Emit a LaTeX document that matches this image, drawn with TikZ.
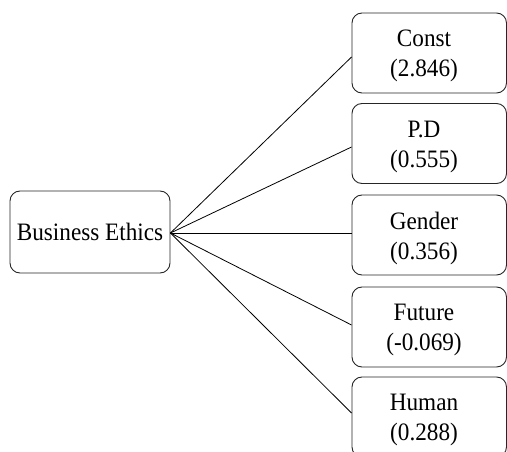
\documentclass[tikz,border=0pt]{standalone}
\usepackage{fontspec}
\setmainfont{Liberation Serif}
\newcommand\tallt[1]{\scalebox{1}[1.08]{#1}}
\begin{document}
\begin{tikzpicture}[x=1pt,y=-1pt,
  box/.style={draw=black!85, rounded corners=10pt, line width=0.9pt, inner sep=0pt},
  lab/.style={align=center, font=\fontsize{23.2}{30}\selectfont, text=black, inner sep=0pt},
  link/.style={draw=black, line width=0.8pt}]
\useasboundingbox (0,0) rectangle (507,452);
\clip (0,0) rectangle (507,452);
\node[box, lab, minimum width=160pt, minimum height=82pt] (be) at (90,232) {\tallt{Business Ethics}};
\node[box, minimum width=154.5pt, minimum height=80pt] (c1) at (429.25,53) {};
\node[box, minimum width=154.5pt, minimum height=80pt] (c2) at (429.25,143.5) {};
\node[box, minimum width=154.5pt, minimum height=80pt] (c3) at (429.25,235) {};
\node[box, minimum width=154.5pt, minimum height=80pt] (c4) at (429.25,327) {};
\node[box, minimum width=154.5pt, minimum height=80pt] (c5) at (429.25,417) {};
\node[lab] (t1) at (424,56) {\tallt{Const}\\\tallt{(2.846)}};
\node[lab] (t2) at (424,146.5) {\tallt{P.D}\\\tallt{(0.555)}};
\node[lab] (t3) at (424,238) {\tallt{Gender}\\\tallt{(0.356)}};
\node[lab] (t4) at (424,330) {\tallt{Future}\\\tallt{(-0.069)}};
\node[lab] (t5) at (424,420) {\tallt{Human}\\\tallt{(0.288)}};
\coordinate (src) at ([yshift=-1pt]be.east);
\draw[link] (src) -- ([yshift=-4pt]c1.west);
\draw[link] (src) -- ([yshift=-3.5pt]c2.west);
\draw[link] (src) -- ([yshift=2pt]c3.west);
\draw[link] (src) -- ([yshift=2pt]c4.west);
\draw[link] (src) -- ([yshift=4pt]c5.west);
\end{tikzpicture}
\end{document}
